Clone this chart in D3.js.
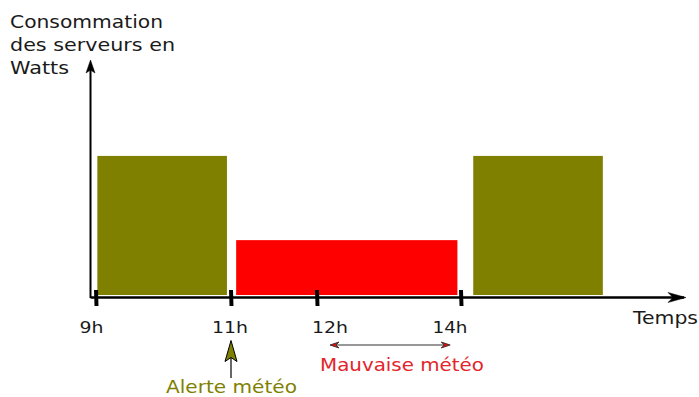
<!DOCTYPE html>
<html><head><meta charset="utf-8">
<script src="https://cdn.jsdelivr.net/npm/d3@7"></script>
<style>
html,body{margin:0;padding:0;background:#fff;}
svg text{font-family:"DejaVu Sans",sans-serif;}
</style></head>
<body><svg id="c" width="699" height="397"></svg>
<script>
// ---- data ----
const tickHours = [9, 11, 12, 14];
const tickLabels = ["9h", "11h", "12h", "14h"];
const barStart = [9.02, 11.06, 14.17];
const barEnd = [10.94, 13.95, 15.97];
const barValues = [58.3, 23.5, 58.3];
const barKinds = ["normal", "degraded", "normal"];
const yTitleLines = ["Consommation", "des serveurs en", "Watts"];
const xTitle = "Temps";
const alertHour = 11;
const alertText = "Alerte météo";
const badWeatherRange = [12.18, 13.85];
const badWeatherText = "Mauvaise météo";

// ---- layout / style ----
const W = 699, H = 397;
const x0 = 96, yBase = 297, yTop = 55;
const colors = {normal: "#808000", degraded: "#ff0000"};
const svg = d3.select("#c");

// hand-drawn schematic: time axis is piecewise linear
const x = d3.scaleLinear()
  .domain([9, 11, 12, 14, 16])
  .range([x0, x0 + 135, x0 + 221, x0 + 365, x0 + 509]);
const y = d3.scaleLinear().domain([0, 100]).range([yBase, yTop]);

// bars
svg.selectAll("rect.bar").data(barValues).join("rect")
  .attr("class", "bar")
  .attr("x", (d, i) => x(barStart[i]))
  .attr("width", (d, i) => x(barEnd[i]) - x(barStart[i]))
  .attr("y", d => y(d))
  .attr("height", d => y(0) - 2 - y(d))
  .attr("fill", (d, i) => colors[barKinds[i]]);

// axes lines
const axisX0 = x0 - 5.5;
svg.append("line").attr("x1", axisX0).attr("x2", 684).attr("y1", y(0) + 0.5).attr("y2", y(0) + 0.5)
  .attr("stroke", "#000").attr("stroke-width", 2.5);
svg.append("line").attr("x1", axisX0).attr("x2", axisX0).attr("y1", y(0) + 1).attr("y2", 66)
  .attr("stroke", "#000").attr("stroke-width", 2);

// arrow heads (concave)
function head(tx, ty, angle, len, half, notch, fill, stroke, sw) {
  const p = `M0,0 L${-len},${-half} L${-notch},0 L${-len},${half} Z`;
  svg.append("path").attr("d", p)
    .attr("transform", `translate(${tx},${ty}) rotate(${angle})`)
    .attr("fill", fill).attr("stroke", stroke).attr("stroke-width", sw)
    .attr("stroke-linejoin", "miter");
}
head(686, y(0) + 0.5, 0, 18, 5, 13, "#000", "#000", 0.5);
head(axisX0, 60, -90, 13, 4.5, 10, "#000", "#000", 0.5);

// ticks
svg.selectAll("line.tick").data(tickHours).join("line")
  .attr("class", "tick")
  .attr("x1", d => x(d)).attr("x2", d => x(d) + 0.5)
  .attr("y1", y(0) - 7).attr("y2", y(0) + 9)
  .attr("stroke", "#000").attr("stroke-width", 4);

// tick labels (hand placed offsets)
const labelDx = [-4.5, -1, 13, -11];
const labelLen = [24, 36, 36, 35];
svg.selectAll("text.tl").data(tickLabels).join("text")
  .attr("class", "tl")
  .attr("x", (d, i) => x(tickHours[i]) + labelDx[i])
  .attr("y", 333)
  .attr("text-anchor", "middle")
  .attr("font-size", 16)
  .attr("textLength", (d, i) => labelLen[i])
  .attr("lengthAdjust", "spacingAndGlyphs")
  .attr("fill", "#1a1a1a")
  .text(d => d);

// axis titles
const titleLen = [153, 165, 59];
svg.selectAll("text.yt").data(yTitleLines).join("text")
  .attr("class", "yt")
  .attr("x", 10)
  .attr("y", (d, i) => 28 + i * 23)
  .attr("font-size", 17.5)
  .attr("textLength", (d, i) => titleLen[i])
  .attr("lengthAdjust", "spacingAndGlyphs")
  .attr("fill", "#1a1a1a")
  .text(d => d);
svg.append("text").attr("x", 633).attr("y", 323.5).attr("font-size", 17)
  .attr("textLength", 65).attr("lengthAdjust", "spacingAndGlyphs")
  .attr("fill", "#1a1a1a").text(xTitle);

// alert annotation
const ax = x(alertHour);
svg.append("line").attr("x1", ax).attr("x2", ax).attr("y1", 356).attr("y2", 378)
  .attr("stroke", "#000").attr("stroke-width", 1.2);
head(ax, 340.5, -90, 21, 6, 17, colors.normal, "#000", 1);
svg.append("text").attr("x", 166).attr("y", 393).attr("font-size", 17)
  .attr("textLength", 131).attr("lengthAdjust", "spacingAndGlyphs")
  .attr("fill", "#808000").text(alertText);

// bad weather annotation
const bx1 = x(badWeatherRange[0]), bx2 = x(badWeatherRange[1]);
svg.append("line").attr("x1", bx1 + 4).attr("x2", bx2 - 4).attr("y1", 345).attr("y2", 345)
  .attr("stroke", "#333").attr("stroke-width", 1.2);
head(bx1, 345, 180, 9, 3, 6, "#e01010", "#222", 0.8);
head(bx2, 345, 0, 9, 3, 6, "#e01010", "#222", 0.8);
svg.append("text").attr("x", 320).attr("y", 371).attr("font-size", 17)
  .attr("textLength", 164).attr("lengthAdjust", "spacingAndGlyphs")
  .attr("fill", "#e3242b").text(badWeatherText);
</script></body></html>
